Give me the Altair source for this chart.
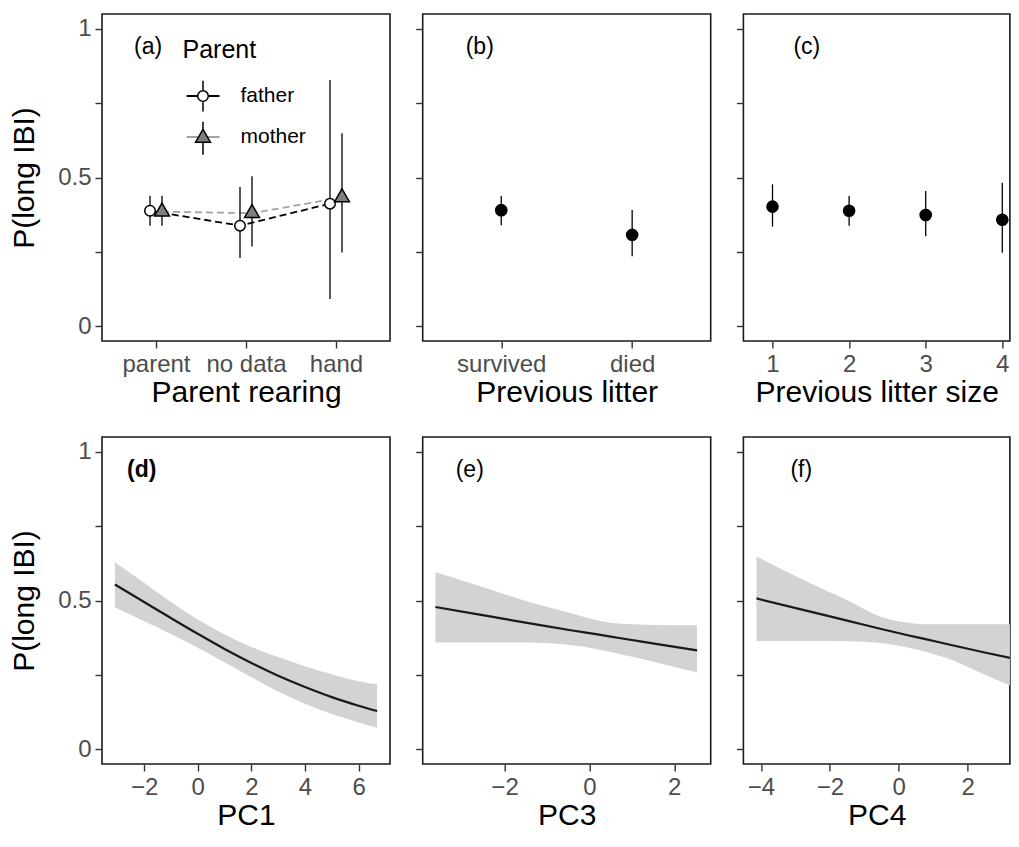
import altair as alt
import pandas as pd

FONT = "Liberation Sans"

# ---------------- data ----------------
# (a) parent rearing x parent
rearing_levels = ["parent", "no data", "hand"]
parent_levels = ["father", "mother"]
parent_keys = ["F", "M"]
father_p = [0.388, 0.338, 0.412]
father_lo = [0.338, 0.229, 0.091]
father_hi = [0.439, 0.468, 0.828]
mother_p = [0.385, 0.380, 0.433]
mother_lo = [0.338, 0.268, 0.248]
mother_hi = [0.439, 0.504, 0.649]

# (b) previous litter
litter_levels = ["survived", "died"]
litter_p = [0.390, 0.307]
litter_lo = [0.339, 0.235]
litter_hi = [0.438, 0.391]

# (c) previous litter size
size_levels = [1, 2, 3, 4]
size_p = [0.402, 0.388, 0.374, 0.358]
size_lo = [0.335, 0.338, 0.302, 0.247]
size_hi = [0.477, 0.438, 0.455, 0.482]

# (d) PC1
pc1_x = [-3.09, -2, -1, 0, 1, 2, 3, 4, 5, 6, 6.69]
pc1_p = [0.554, 0.495, 0.441, 0.388, 0.337, 0.290, 0.247, 0.209, 0.175, 0.146, 0.128]
pc1_lo = [0.477, 0.430, 0.387, 0.341, 0.292, 0.242, 0.194, 0.153, 0.118, 0.090, 0.072]
pc1_hi = [0.629, 0.560, 0.495, 0.436, 0.386, 0.344, 0.310, 0.279, 0.252, 0.228, 0.218]

# (e) PC3
pc3_x = [-3.63, -2.41, -1.23, -0.44, 0.19, 0.74, 1.53, 2.54]
pc3_p = [0.478, 0.448, 0.419, 0.400, 0.386, 0.373, 0.355, 0.332]
pc3_lo = [0.359, 0.359, 0.358, 0.350, 0.336, 0.319, 0.293, 0.258]
pc3_hi = [0.596, 0.540, 0.487, 0.457, 0.433, 0.422, 0.418, 0.417]

# (f) PC4
pc4_x = [-4.13, -2.66, -1.41, -0.54, 0.23, 0.81, 1.49, 2.46, 3.47]
pc4_p = [0.507, 0.465, 0.430, 0.405, 0.384, 0.369, 0.351, 0.326, 0.301]
pc4_lo = [0.364, 0.364, 0.363, 0.357, 0.343, 0.327, 0.302, 0.252, 0.202]
pc4_hi = [0.648, 0.563, 0.496, 0.446, 0.426, 0.420, 0.420, 0.420, 0.420]

# ---------------- layout / style ----------------
W = 288
W_LAST = 266.5
H = 327
HSPACE = 32.7
VSPACE = 28

Y_SCALE = alt.Scale(domain=[-0.05, 1.05], nice=False, zero=False)
Y_TICKS = [0, 0.25, 0.5, 0.75, 1]
Y_AX_LAB = alt.Axis(
    title="P(long IBI)", values=Y_TICKS, titlePadding=18,
    labelExpr="datum.value == 0 ? '0' : datum.value == 0.5 ? '0.5' : datum.value == 1 ? '1' : ''",
)
Y_AX_NOLAB = alt.Axis(title=None, values=Y_TICKS, labels=False)


def panel_title(txt, dx, bold=False):
    return alt.TitleParams(
        txt, anchor="start", frame="group", orient="top", offset=0,
        dx=dx, dy=63.3, baseline="alphabetic", fontSize=23,
        fontWeight="bold" if bold else "normal", font=FONT, color="black",
    )


# ---------------- panel (a) ----------------
df_a = pd.DataFrame({
    "Rearing": rearing_levels * 2,
    "Parent": [parent_levels[0]] * 3 + [parent_levels[1]] * 3,
    "Key": [parent_keys[0]] * 3 + [parent_keys[1]] * 3,
    "p": father_p + mother_p,
    "lo": father_lo + mother_lo,
    "hi": father_hi + mother_hi,
})

CIRCLE_PATH = "M0.32,0A0.32,0.32 0 1,1 -0.32,0A0.32,0.32 0 1,1 0.32,0Z"
TRIANGLE_PATH = "M0,-0.52L0.45,0.26L-0.45,0.26Z"
# legend glyphs: the symbol with its vertical error bar
FATHER_KEY = "M0,-0.93L0,-0.32M0,0.32L0,0.93" + CIRCLE_PATH
MOTHER_KEY = "M0,-0.98L0,-0.52M0,0.26L0,1.02" + TRIANGLE_PATH

color_scale = alt.Scale(domain=parent_levels, range=["#000000", "#A3A3A3"])
shape_scale = alt.Scale(domain=parent_keys, range=[FATHER_KEY, MOTHER_KEY])
fill_scale = alt.Scale(domain=parent_keys, range=["#FFFFFF", "#7F7F7F"])

LEG_X = 80.5
LEG_Y = 24
leg_common = dict(
    orient="none", legendX=LEG_X, legendY=LEG_Y, padding=0,
    titleFontSize=25, titleFont=FONT, titleColor="black",
    titleFontWeight="normal", titlePadding=15.6,
    labelFontSize=21, labelFont=FONT, labelColor="black",
    symbolSize=1089, symbolOffset=3, labelOffset=20, symbolOpacity=1,
)
leg_lines = alt.Legend(title="Parent", symbolType="stroke", symbolStrokeWidth=2,
                       rowPadding=12.8, **leg_common)
leg_points = alt.Legend(title=" ", labelExpr="' '", symbolStrokeWidth=1.5,
                        rowPadding=3.8, **leg_common)

x_a = alt.X("Rearing:N", sort=rearing_levels,
            scale=alt.Scale(type="point", padding=0.6),
            axis=alt.Axis(title="Parent rearing", labelAngle=0))
y_a = alt.Y("p:Q", scale=Y_SCALE, axis=Y_AX_LAB)


def parent_layers(parent, dx, line_color, shape, fill):
    base = alt.Chart(df_a).transform_filter(alt.datum.Parent == parent)
    line = base.mark_line(strokeDash=[7, 4], strokeWidth=1.8, xOffset=dx,
                          color=line_color).encode(x=x_a, y=y_a)
    rule = base.mark_rule(strokeWidth=1.3, color="black", xOffset=dx).encode(
        x=x_a, y=alt.Y("lo:Q", scale=Y_SCALE, axis=Y_AX_LAB), y2="hi:Q")
    pt = base.mark_point(shape=shape, fill=fill, filled=False, size=1089,
                         stroke="black", strokeWidth=1.5, opacity=1,
                         xOffset=dx).encode(x=x_a, y=y_a)
    return line, rule, pt


fl, fr, fp = parent_layers(parent_levels[0], -6, "#000000", CIRCLE_PATH, "#FFFFFF")
ml, mr, mp = parent_layers(parent_levels[1], 6, "#A3A3A3", TRIANGLE_PATH, "#7F7F7F")

# invisible layers that only carry the legend
leg_line_layer = alt.Chart(df_a).mark_line(opacity=0).encode(
    x=x_a, y=y_a, color=alt.Color("Parent:N", scale=color_scale, legend=leg_lines))
leg_pt_layer = alt.Chart(df_a).mark_point(
    filled=False, opacity=0, size=1089, strokeWidth=1.5
).encode(
    x=x_a, y=y_a, color=alt.value("black"),
    shape=alt.Shape("Key:N", scale=shape_scale, legend=leg_points),
    fill=alt.Fill("Key:N", scale=fill_scale, legend=leg_points),
)

panel_a = alt.layer(leg_line_layer, leg_pt_layer, fl, ml, fr, fp, mr, mp).properties(
    width=W, height=H, title=panel_title("(a)", 32)
)

# ---------------- panel (b) ----------------
df_b = pd.DataFrame({"Litter": litter_levels, "p": litter_p,
                     "lo": litter_lo, "hi": litter_hi})
x_b = alt.X("Litter:N", sort=litter_levels,
            scale=alt.Scale(type="point", padding=0.6),
            axis=alt.Axis(title="Previous litter", labelAngle=0))
b_rule = alt.Chart(df_b).mark_rule(strokeWidth=1.3, color="black").encode(
    x=x_b, y=alt.Y("lo:Q", scale=Y_SCALE, axis=Y_AX_NOLAB), y2="hi:Q")
b_pt = alt.Chart(df_b).mark_circle(size=160, color="black", opacity=1).encode(
    x=x_b, y=alt.Y("p:Q", scale=Y_SCALE, axis=Y_AX_NOLAB))
panel_b = alt.layer(b_rule, b_pt).properties(
    width=W, height=H, title=panel_title("(b)", 43))

# ---------------- panel (c) ----------------
df_c = pd.DataFrame({"Size": size_levels, "p": size_p,
                     "lo": size_lo, "hi": size_hi})
PX_C = 288 / 3.76
x_c = alt.X("Size:Q", scale=alt.Scale(domain=[0.62, 0.62 + W_LAST / PX_C], nice=False, zero=False),
            axis=alt.Axis(title="Previous litter size", values=size_levels, format="d"))
c_rule = alt.Chart(df_c).mark_rule(strokeWidth=1.3, color="black").encode(
    x=x_c, y=alt.Y("lo:Q", scale=Y_SCALE, axis=Y_AX_NOLAB), y2="hi:Q")
c_pt = alt.Chart(df_c).mark_circle(size=160, color="black", opacity=1).encode(
    x=x_c, y=alt.Y("p:Q", scale=Y_SCALE, axis=Y_AX_NOLAB))
panel_c = alt.layer(c_rule, c_pt).properties(
    width=W_LAST, height=H, title=panel_title("(c)", 50))


# ---------------- bottom panels ----------------
def smooth_panel(xs, ps, los, his, name, domain, ticks, width, ylab, label, dx, bold=False):
    df = pd.DataFrame({"x": xs, "p": ps, "lo": los, "hi": his})
    xenc = alt.X("x:Q", scale=alt.Scale(domain=domain, nice=False, zero=False),
                 axis=alt.Axis(title=name, values=ticks))
    yax = Y_AX_LAB if ylab else Y_AX_NOLAB
    band = alt.Chart(df).mark_area(color="#D3D3D3", opacity=1, interpolate="monotone",
                                   clip=True).encode(
        x=xenc, y=alt.Y("lo:Q", scale=Y_SCALE, axis=yax), y2="hi:Q")
    line = alt.Chart(df).mark_line(color="#1A1A1A", strokeWidth=2.2, interpolate="monotone",
                                   clip=True).encode(
        x=xenc, y=alt.Y("p:Q", scale=Y_SCALE, axis=yax))
    return alt.layer(band, line).properties(
        width=width, height=H, title=panel_title(label, dx, bold))


PX_F = 288 / 8.36
panel_d = smooth_panel(pc1_x, pc1_p, pc1_lo, pc1_hi, "PC1", [-3.57, 7.17],
                       [-2, 0, 2, 4, 6], W, True, "(d)", 25, bold=True)
panel_e = smooth_panel(pc3_x, pc3_p, pc3_lo, pc3_hi, "PC3", [-3.93, 2.86],
                       [-2, 0, 2], W, False, "(e)", 33)
panel_f = smooth_panel(pc4_x, pc4_p, pc4_lo, pc4_hi, "PC4", [-4.51, -4.51 + W_LAST / PX_F],
                       [-4, -2, 0, 2], W_LAST, False, "(f)", 47)

row1 = alt.hconcat(panel_a, panel_b, panel_c, spacing=HSPACE, bounds="flush")
row2 = alt.hconcat(panel_d, panel_e, panel_f, spacing=HSPACE, bounds="flush")

chart = alt.vconcat(row1, row2, spacing=VSPACE).properties(
    padding={"left": 0, "top": 5, "right": 0, "bottom": 0}
).configure(font=FONT).configure_view(
    stroke="#1A1A1A", strokeWidth=1.6
).configure_axis(
    domain=False, grid=False, ticks=True, tickColor="#333333", tickWidth=1.4,
    tickSize=7, labelPadding=4, labelFont=FONT, labelFontSize=24,
    labelColor="#4D4D4D", titleFont=FONT, titleFontSize=30,
    titleFontWeight="normal", titleColor="black",
).configure_axisX(titlePadding=1)

chart.save("out.html", embed_options={"renderer": "svg", "actions": False})
